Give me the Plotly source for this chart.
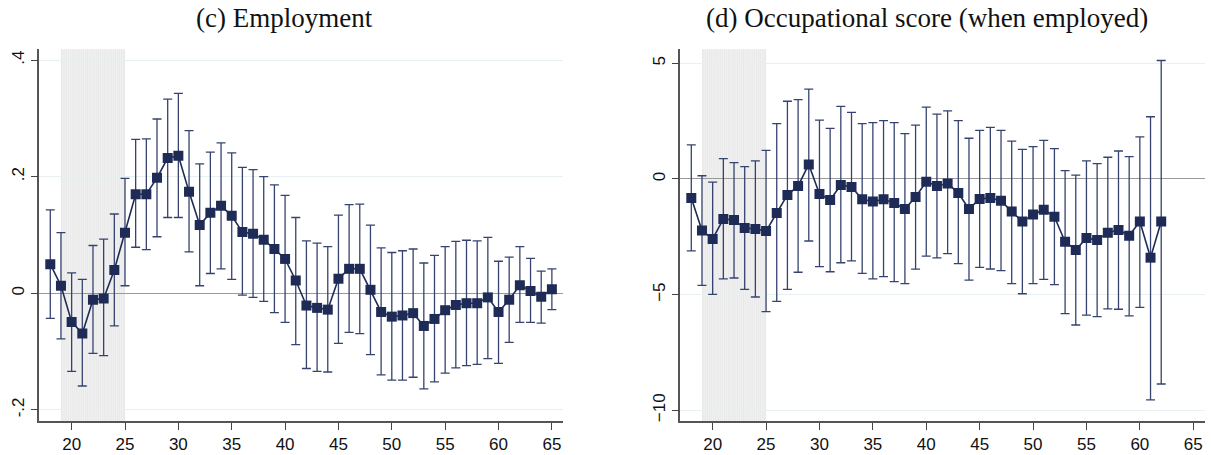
import plotly.graph_objects as go

# ---------------- data ----------------
ages_emp = list(range(18, 66))
emp_coef = [0.050, 0.013, -0.049, -0.069, -0.011, -0.009, 0.040, 0.104, 0.170, 0.170,
            0.198, 0.232, 0.236, 0.174, 0.117, 0.138, 0.150, 0.133, 0.105, 0.102,
            0.092, 0.076, 0.059, 0.022, -0.021, -0.025, -0.028, 0.025, 0.042, 0.042,
            0.006, -0.032, -0.040, -0.038, -0.034, -0.056, -0.044, -0.029, -0.020, -0.017,
            -0.017, -0.007, -0.032, -0.011, 0.014, 0.004, -0.006, 0.007]
emp_hi = [0.143, 0.104, 0.035, 0.024, 0.082, 0.093, 0.136, 0.197, 0.264, 0.265,
          0.299, 0.333, 0.343, 0.279, 0.222, 0.242, 0.258, 0.241, 0.216, 0.212,
          0.200, 0.186, 0.168, 0.130, 0.090, 0.086, 0.080, 0.134, 0.152, 0.153,
          0.117, 0.078, 0.070, 0.073, 0.076, 0.052, 0.065, 0.080, 0.089, 0.091,
          0.090, 0.096, 0.055, 0.062, 0.080, 0.060, 0.038, 0.042]
emp_lo = [-0.043, -0.078, -0.134, -0.159, -0.103, -0.107, -0.056, 0.013, 0.079, 0.075,
          0.097, 0.130, 0.130, 0.071, 0.013, 0.034, 0.042, 0.024, -0.003, -0.007,
          -0.014, -0.033, -0.050, -0.088, -0.129, -0.134, -0.135, -0.086, -0.067, -0.069,
          -0.105, -0.140, -0.149, -0.149, -0.144, -0.164, -0.152, -0.137, -0.128, -0.124,
          -0.122, -0.112, -0.120, -0.084, -0.050, -0.050, -0.051, -0.028]

ages_occ = list(range(18, 63))
occ_coef = [-0.82, -2.23, -2.59, -1.73, -1.77, -2.12, -2.16, -2.25, -1.47, -0.69,
            -0.30, 0.63, -0.65, -0.91, -0.26, -0.35, -0.88, -0.97, -0.88, -1.04,
            -1.30, -0.78, -0.12, -0.30, -0.19, -0.61, -1.30, -0.86, -0.82, -0.94,
            -1.41, -1.84, -1.54, -1.33, -1.63, -2.71, -3.07, -2.55, -2.64, -2.32,
            -2.20, -2.45, -1.84, -3.40, -1.84]
occ_hi = [1.47, 0.14, -0.14, 0.88, 0.71, 0.53, 0.78, 1.24, 2.39, 3.36,
          3.43, 3.88, 2.54, 2.19, 3.14, 2.88, 2.39, 2.44, 2.52, 2.44,
          1.96, 2.33, 3.11, 2.80, 2.94, 2.52, 1.76, 2.10, 2.23, 2.10,
          1.64, 1.28, 1.40, 1.67, 1.31, 0.36, 0.17, 0.78, 0.66, 0.94,
          1.21, 0.97, 1.82, 2.69, 5.12]
occ_lo = [-3.11, -4.60, -4.99, -4.32, -4.28, -4.77, -5.10, -5.73, -5.29, -4.77,
          -4.03, -2.68, -3.79, -4.01, -3.62, -3.54, -4.08, -4.32, -4.22, -4.44,
          -4.52, -3.90, -3.33, -3.41, -3.23, -3.66, -4.37, -3.82, -3.89, -3.96,
          -4.52, -4.96, -4.52, -4.34, -4.57, -5.82, -6.31, -5.88, -5.95, -5.61,
          -5.63, -5.92, -5.55, -9.55, -8.86]

titles = ["(c) Employment", "(d) Occupational score (when employed)"]
x_ticks = [20, 25, 30, 35, 40, 45, 50, 55, 60, 65]
emp_yticks = [-0.2, 0, 0.2, 0.4]
emp_ytext = ["-.2", "0", ".2", ".4"]
occ_yticks = [-10, -5, 0, 5]
occ_ytext = ["\u221210", "\u22125", "0", "5"]
shade_start, shade_end = 19, 25

# ---------------- styling ----------------
NAVY = "#1e2b56"
ERR = "#36436e"
W, H = 1211, 455

fig = go.Figure()

def add_panel(ages, coef, hi, lo, xa, ya):
    plus = [h - c for h, c in zip(hi, coef)]
    minus = [c - l for c, l in zip(coef, lo)]
    fig.add_trace(go.Scatter(
        x=ages, y=coef, mode="lines+markers", xaxis=xa, yaxis=ya,
        line=dict(color=NAVY, width=1.6),
        marker=dict(symbol="square", size=10, color=NAVY),
        error_y=dict(type="data", array=plus, arrayminus=minus, visible=True,
                     color=ERR, thickness=1.3, width=4.5),
        showlegend=False, hoverinfo="skip"))

add_panel(ages_emp, emp_coef, emp_hi, emp_lo, "x", "y")
add_panel(ages_occ, occ_coef, occ_hi, occ_lo, "x2", "y2")

def px_x(a, b):
    return [a / W, b / W]

def px_y(top, bottom):
    return [(H - bottom) / H, (H - top) / H]

axis_common = dict(showline=True, linecolor="#555555", linewidth=1.5,
                   ticks="outside", ticklen=7, tickwidth=1.2, tickcolor="#444444",
                   tickfont=dict(family="Liberation Sans, Arial", size=17, color="#111111"),
                   automargin=False, mirror=False)

fig.update_layout(
    width=W, height=H,
    margin=dict(l=0, r=0, t=0, b=0),
    paper_bgcolor="white", plot_bgcolor="white",
    xaxis=dict(domain=px_x(39.3, 563.3), range=[16.97, 66.07], tickvals=x_ticks,
               showgrid=False, zeroline=False, anchor="y", **axis_common),
    yaxis=dict(domain=px_y(49.3, 421), range=[-0.219, 0.4185], tickvals=emp_yticks,
               ticktext=emp_ytext, tickangle=-90, showgrid=True, gridcolor="#e8f0f2",
               gridwidth=1.2, zeroline=True, zerolinecolor="#9a9a9a", zerolinewidth=1.2,
               anchor="x", **axis_common),
    xaxis2=dict(domain=px_x(680.3, 1205), range=[16.97, 66.1], tickvals=x_ticks,
                showgrid=False, zeroline=False, anchor="y2", **axis_common),
    yaxis2=dict(domain=px_y(49.3, 421), range=[-10.46, 5.605], tickvals=occ_yticks,
                ticktext=occ_ytext, tickangle=-90, showgrid=True, gridcolor="#e8f0f2",
                gridwidth=1.2, zeroline=True, zerolinecolor="#9a9a9a", zerolinewidth=1.2,
                anchor="x2", **axis_common),
)

# shaded region with fine vertical texture
for xr, yr in (("x", "y"), ("x2", "y2")):
    fig.add_shape(type="rect", xref=xr, yref=f"{yr} domain", x0=shade_start, x1=shade_end,
                  y0=0, y1=1, fillcolor="#e9e9e9", line=dict(width=0), layer="below")
    n_stripes = 30
    for k in range(1, n_stripes):
        xs = shade_start + (shade_end - shade_start) * k / n_stripes
        fig.add_shape(type="line", xref=xr, yref=f"{yr} domain", x0=xs, x1=xs,
                      y0=0, y1=1, line=dict(color="#f4f4f4", width=0.8), layer="below")

# titles
for txt, cx in zip(titles, [284, 927]):
    fig.add_annotation(text=txt, x=cx / W, y=(H - 18) / H, xref="paper", yref="paper",
                       xanchor="center", yanchor="middle", showarrow=False,
                       font=dict(family="Liberation Serif, Times New Roman, serif", size=27,
                                 color="#111111"))

fig.write_html("out.html")
